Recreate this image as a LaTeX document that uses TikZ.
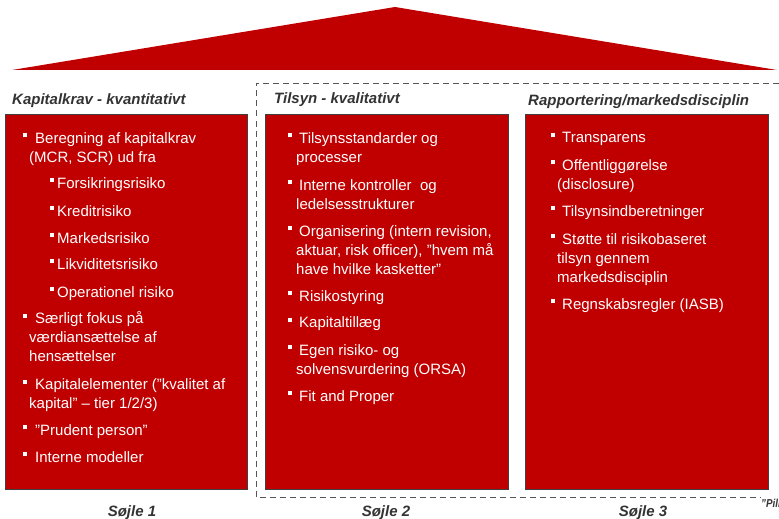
\documentclass[tikz,border=0pt]{standalone}
\usepackage{fontspec}
\setmainfont{Liberation Sans}
\definecolor{pillarred}{HTML}{C00000}
\definecolor{headgray}{HTML}{333333}
\definecolor{dashgray}{HTML}{555555}
\newcommand\bsq{\rule[5.7pt]{4pt}{4pt}}
\begin{document}
\begin{tikzpicture}[x=1pt,y=-1pt,
  pillar/.style={draw=black!75, line width=0.8pt, fill=pillarred, inner sep=0, minimum height=375pt},
  li/.style={anchor=base west, inner sep=0, text=white, font=\fontsize{15}{19}\selectfont, align=left},
  head/.style={anchor=base west, inner sep=0, text=headgray, font=\fontsize{15}{18}\selectfont\bfseries\itshape},
  foot/.style={anchor=base, inner sep=0, text=headgray, font=\fontsize{15}{18}\selectfont\bfseries\itshape},
  frame/.style={draw=dashgray, line width=0.9pt, dash pattern=on 6pt off 4pt}
]
\useasboundingbox (0,0) rectangle (779,519);
\clip (0,0) rectangle (779,519);

% roof
\fill[pillarred] (12,70) -- (395,7) -- (777,70) -- cycle;

% dashed frame around pillars 2 and 3
\coordinate (fA) at (779,83);
\coordinate (fB) at (256.5,83);
\coordinate (fC) at (256.5,497.5);
\coordinate (fD) at (760,497.5);
\draw[frame] (fA) -- (fB) -- (fC) -- (fD);
\node[anchor=base west, inner sep=0, text=headgray, font=\fontsize{11.5}{13}\selectfont\bfseries\itshape, xscale=0.85] (pill) at (761,507) {”Pillar};

% pillars
\node[pillar, minimum width=242pt] (p1) at (126,301.5) {};
\node[pillar, minimum width=243pt] (p2) at (386.5,301.5) {};
\node[pillar, minimum width=243pt] (p3) at (646.5,301.5) {};

% headings
\node[head] (h1) at (12,104) {Kapitalkrav - kvantitativt};
\node[head] (h2) at (274,103) {Tilsyn - kvalitativt};
\node[head] (h3) at (528,105) {Rapportering/markedsdisciplin};

% column 1 (base anchor = baseline of the last line)
\node[li] (a1) at (29,162) {\llap{\bsq\hspace{2pt}}\hspace{6pt}Beregning af kapitalkrav\\(MCR, SCR) ud fra};
\node[li] (a11) at (57,188) {\llap{\bsq\hspace{3pt}}Forsikringsrisiko};
\node[li] (a12) at (57,216) {\llap{\bsq\hspace{3pt}}Kreditrisiko};
\node[li] (a13) at (57,243) {\llap{\bsq\hspace{3pt}}Markedsrisiko};
\node[li] (a14) at (57,269) {\llap{\bsq\hspace{3pt}}Likviditetsrisiko};
\node[li] (a15) at (57,297) {\llap{\bsq\hspace{3pt}}Operationel risiko};
\node[li] (a2) at (29,361.5) {\llap{\bsq\hspace{2pt}}\hspace{6pt}Særligt fokus på\\værdiansættelse af\\hensættelser};
\node[li] (a3) at (29,408.5) {\llap{\bsq\hspace{2pt}}\hspace{6pt}Kapitalelementer (”kvalitet af\\kapital” – tier 1/2/3)};
\node[li] (a4) at (29,435) {\llap{\bsq\hspace{2pt}}\hspace{6pt}"Prudent person”};
\node[li] (a5) at (29,462) {\llap{\bsq\hspace{2pt}}\hspace{6pt}Interne modeller};

% column 2
\node[li] (b1) at (296,162) {\llap{\bsq\hspace{4pt}}\hspace{3pt}Tilsynsstandarder og\\processer};
\node[li] (b2) at (296,209) {\llap{\bsq\hspace{4pt}}\hspace{3pt}Interne kontroller\ \ og\\ledelsesstrukturer};
\node[li] (b3) at (296,274) {\llap{\bsq\hspace{4pt}}\hspace{3pt}Organisering (intern revision,\\aktuar, risk officer), "hvem må\\have hvilke kasketter”};
\node[li] (b4) at (296,301) {\llap{\bsq\hspace{4pt}}\hspace{3pt}Risikostyring};
\node[li] (b5) at (296,327.5) {\llap{\bsq\hspace{4pt}}\hspace{3pt}Kapitaltillæg};
\node[li] (b6) at (296,374) {\llap{\bsq\hspace{4pt}}\hspace{3pt}Egen risiko- og\\solvensvurdering (ORSA)};
\node[li] (b7) at (296,401) {\llap{\bsq\hspace{4pt}}\hspace{3pt}Fit and Proper};

% column 3
\node[li] (c1) at (557,142.5) {\llap{\bsq\hspace{2pt}}\hspace{5pt}Transparens};
\node[li] (c2) at (557,189) {\llap{\bsq\hspace{2pt}}\hspace{5pt}Offentliggørelse\\(disclosure)};
\node[li] (c3) at (557,216) {\llap{\bsq\hspace{2pt}}\hspace{5pt}Tilsynsindberetninger};
\node[li] (c4) at (557,282) {\llap{\bsq\hspace{2pt}}\hspace{5pt}Støtte til risikobaseret\\tilsyn gennem\\markedsdisciplin};
\node[li] (c5) at (557,309) {\llap{\bsq\hspace{2pt}}\hspace{5pt}Regnskabsregler (IASB)};

% footers
\node[foot] (s1) at (132,516) {Søjle 1};
\node[foot] (s2) at (386,516) {Søjle 2};
\node[foot] (s3) at (643,516) {Søjle 3};
\end{tikzpicture}
\end{document}
